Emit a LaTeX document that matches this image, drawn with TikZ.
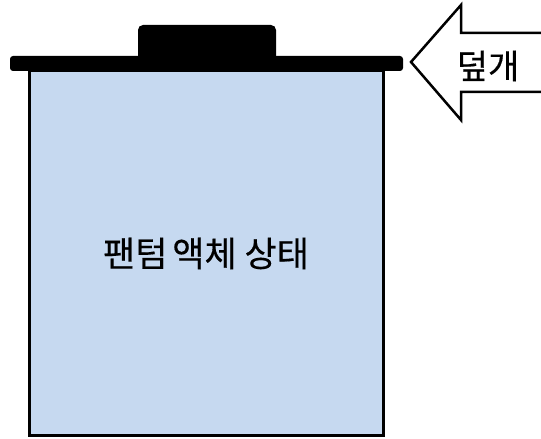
\documentclass[tikz,border=0pt]{standalone}
\usepackage{fontspec}
\setmainfont{Noto Sans CJK KR}
\newfontfamily\labelfont{Noto Sans CJK KR}[FakeBold=0.4]
\usetikzlibrary{positioning}
\definecolor{liquidblue}{HTML}{C6D9F0}

\begin{document}
\begin{tikzpicture}[x=1pt, y=1pt, every node/.style={align=center}]
\tikzset{
  tank/.style={
    rectangle, draw=black, line width=3pt, fill=liquidblue, inner sep=0pt,
    minimum width=354pt, minimum height=365pt,
    font=\labelfont\fontsize{35}{40}\selectfont
  },
  lid/.style={rectangle, fill=black, rounded corners=3pt, inner sep=0pt,
    minimum width=393pt, minimum height=15pt},
  knob/.style={rectangle, fill=black, rounded corners=5pt, inner sep=0pt,
    minimum width=138pt, minimum height=37pt},
  pointer/.style={draw=black, line width=2.5pt, fill=white, line join=miter},
  tag/.style={font=\labelfont\fontsize{34}{40}\selectfont, inner sep=0pt}
}
\useasboundingbox (0,0) rectangle (541,439);

\node (tank) [tank] at (206,185.5) {팬텀\hspace{-3pt} 액체 상태};
\node (knob) [knob] at (207,395.5) {};
\node (lid) [lid] at (206.5,375.5) {};

% arrow pointing at the lid
\coordinate (tip) at (411,377);
\draw [pointer] (tip) -- (461,434) -- (461,406) -- (546,406)
  -- (546,347) -- (461,347) -- (461,319) -- cycle;
\node (cover) [tag] at (488,373) {덮개};
\end{tikzpicture}
\end{document}
